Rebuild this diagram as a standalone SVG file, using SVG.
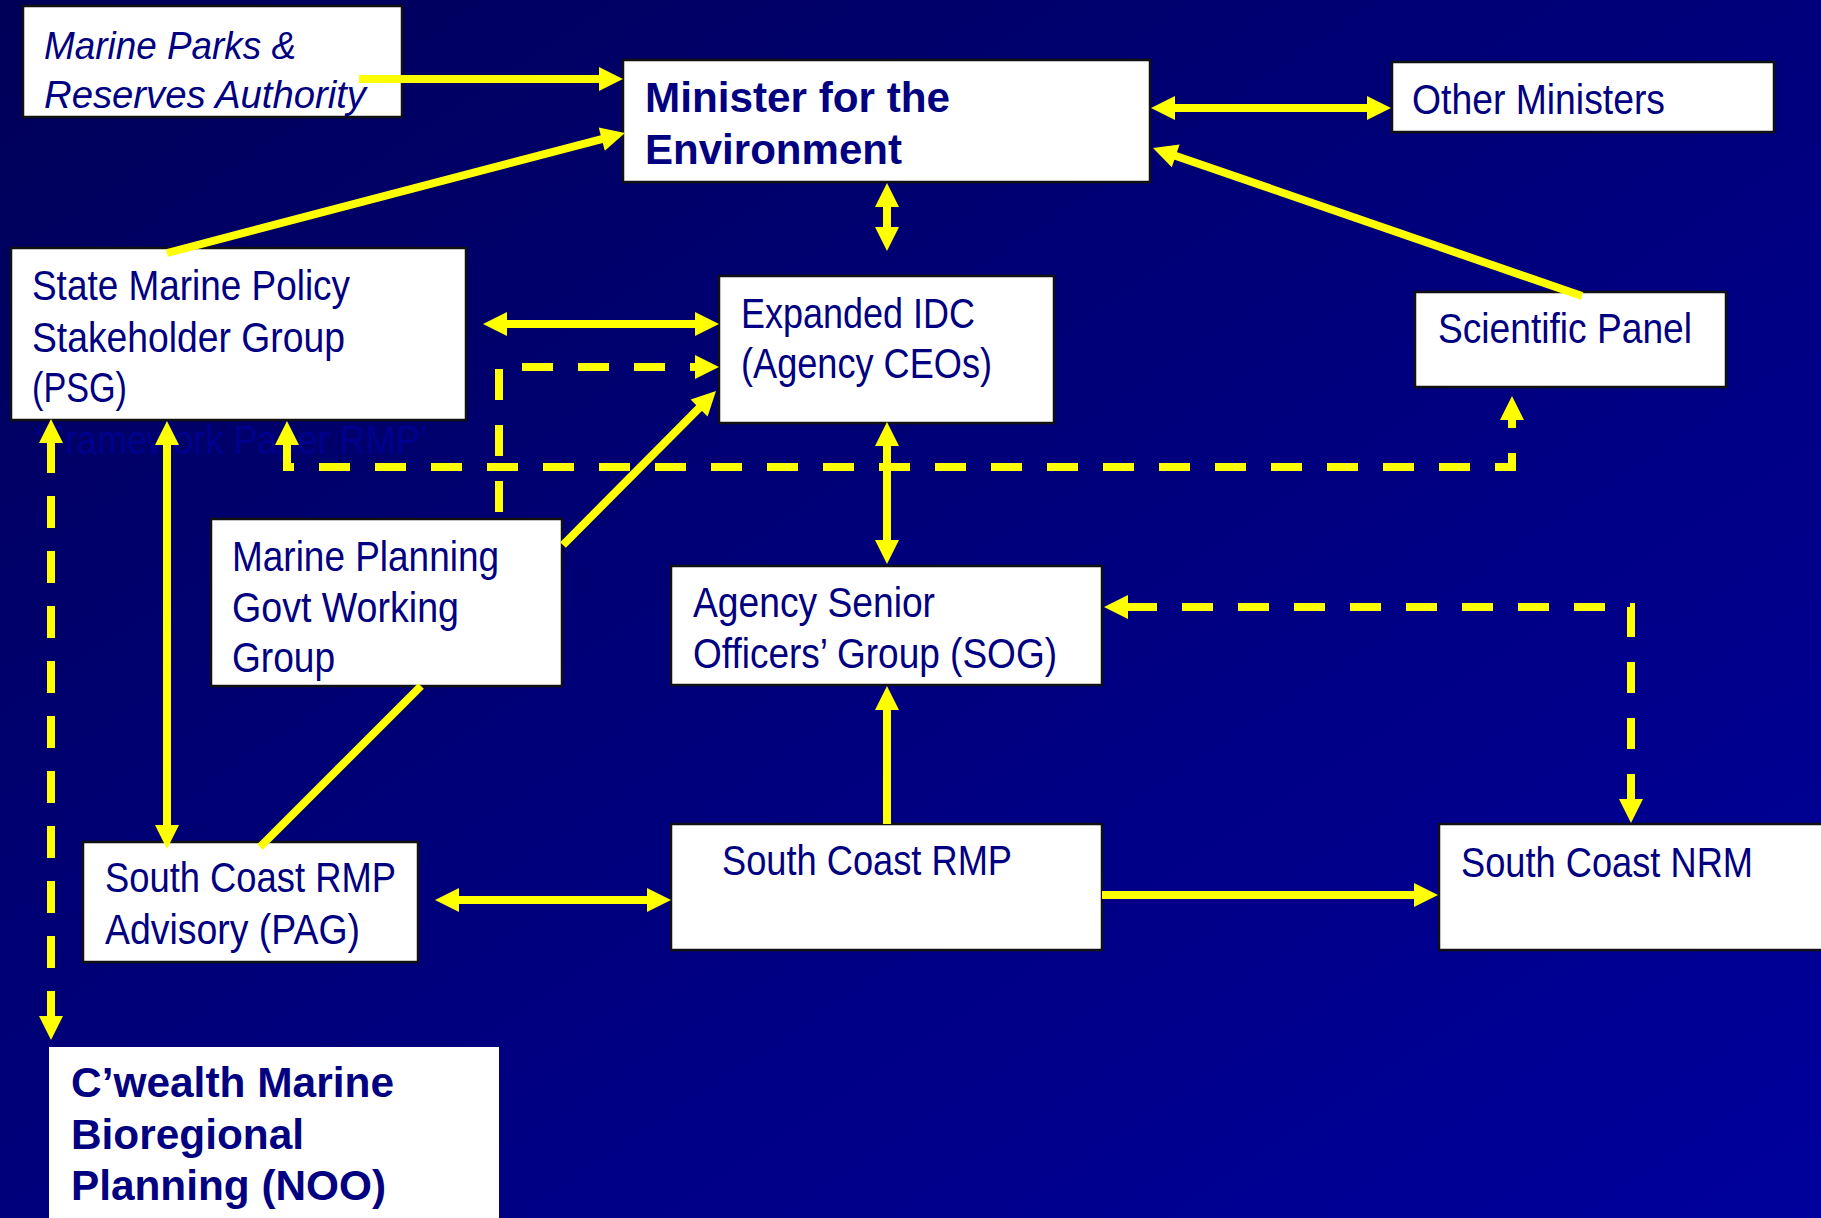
<svg xmlns="http://www.w3.org/2000/svg" width="1821" height="1218" viewBox="0 0 1821 1218">
<defs>
<linearGradient id="bg" x1="0" y1="0" x2="1" y2="1">
<stop offset="0" stop-color="#000058"/>
<stop offset="0.5" stop-color="#00007c"/>
<stop offset="1" stop-color="#00009c"/>
</linearGradient>
<marker id="ah" markerUnits="userSpaceOnUse" markerWidth="24" markerHeight="24" refX="2" refY="12" orient="auto-start-reverse" overflow="visible">
<path d="M0,0 L24,12 L0,24 Z" fill="#ffff00"/>
</marker>
<style>
.box{fill:#ffffff;stroke:#111111;stroke-width:2.5}
.t{font-family:"Liberation Sans",Arial,sans-serif;fill:#000080;font-size:42px}
.b{font-weight:bold}
.i{font-style:italic;font-size:38px}
.c{fill:none;stroke:#ffff00;stroke-width:8}
.d{stroke-dasharray:31 25}
.faint{font-family:"Liberation Sans",Arial,sans-serif;fill:#00008e;font-size:40px}
</style>
</defs>
<rect x="0" y="0" width="1821" height="1218" fill="url(#bg)"/>
<text class="faint" x="35" y="454" textLength="393" lengthAdjust="spacingAndGlyphs">‘Framework Paper RMP’</text>

<g id="n-mpra">
<rect class="box" x="23" y="6" width="379" height="111"/>
<text class="t i" x="44" y="59" textLength="252" lengthAdjust="spacingAndGlyphs">Marine Parks &amp;</text>
<text class="t i" x="44" y="108" textLength="322" lengthAdjust="spacingAndGlyphs">Reserves Authority</text>
</g>
<g id="n-minister">
<rect class="box" x="623" y="60" width="527" height="122"/>
<text class="t b" x="645" y="112" textLength="305" lengthAdjust="spacingAndGlyphs">Minister for the</text>
<text class="t b" x="645" y="164" textLength="257" lengthAdjust="spacingAndGlyphs">Environment</text>
</g>
<g id="n-other">
<rect class="box" x="1392" y="62" width="382" height="70"/>
<text class="t" x="1412" y="114" textLength="253" lengthAdjust="spacingAndGlyphs">Other Ministers</text>
</g>
<g id="n-psg">
<rect class="box" x="11" y="248" width="455" height="172"/>
<text class="t" x="32" y="300" textLength="318" lengthAdjust="spacingAndGlyphs">State Marine Policy</text>
<text class="t" x="32" y="352" textLength="313" lengthAdjust="spacingAndGlyphs">Stakeholder Group</text>
<text class="t" x="32" y="402" textLength="95" lengthAdjust="spacingAndGlyphs">(PSG)</text>
</g>
<g id="n-idc">
<rect class="box" x="719" y="276" width="335" height="147"/>
<text class="t" x="741" y="328" textLength="234" lengthAdjust="spacingAndGlyphs">Expanded IDC</text>
<text class="t" x="741" y="378" textLength="251" lengthAdjust="spacingAndGlyphs">(Agency CEOs)</text>
</g>
<g id="n-sci">
<rect class="box" x="1415" y="292" width="311" height="95"/>
<text class="t" x="1438" y="343" textLength="254" lengthAdjust="spacingAndGlyphs">Scientific Panel</text>
</g>
<g id="n-mpgwg">
<rect class="box" x="211" y="519" width="351" height="167"/>
<text class="t" x="232" y="571" textLength="267" lengthAdjust="spacingAndGlyphs">Marine Planning</text>
<text class="t" x="232" y="622" textLength="227" lengthAdjust="spacingAndGlyphs">Govt Working</text>
<text class="t" x="232" y="672" textLength="103" lengthAdjust="spacingAndGlyphs">Group</text>
</g>
<g id="n-sog">
<rect class="box" x="671" y="566" width="431" height="119"/>
<text class="t" x="693" y="617" textLength="242" lengthAdjust="spacingAndGlyphs">Agency Senior</text>
<text class="t" x="693" y="668" textLength="364" lengthAdjust="spacingAndGlyphs">Officers’ Group (SOG)</text>
</g>
<g id="n-pag">
<rect class="box" x="83" y="842" width="335" height="120"/>
<text class="t" x="105" y="892" textLength="291" lengthAdjust="spacingAndGlyphs">South Coast RMP</text>
<text class="t" x="105" y="944" textLength="255" lengthAdjust="spacingAndGlyphs">Advisory (PAG)</text>
</g>
<g id="n-rmp">
<rect class="box" x="671" y="824" width="431" height="126"/>
<text class="t" x="722" y="875" textLength="290" lengthAdjust="spacingAndGlyphs">South Coast RMP</text>
</g>
<g id="n-nrm">
<rect class="box" x="1439" y="824" width="395" height="126"/>
<text class="t" x="1461" y="877" textLength="292" lengthAdjust="spacingAndGlyphs">South Coast NRM</text>
</g>
<g id="n-cwealth">
<rect x="49" y="1047" width="450" height="185" fill="#ffffff"/>
<text class="t b" x="71" y="1097" textLength="323" lengthAdjust="spacingAndGlyphs">C’wealth Marine</text>
<text class="t b" x="71" y="1149" textLength="233" lengthAdjust="spacingAndGlyphs">Bioregional</text>
<text class="t b" x="71" y="1200" textLength="315" lengthAdjust="spacingAndGlyphs">Planning (NOO)</text>
</g>

<g id="connectors">
<path class="c" d="M359,79 H601" marker-end="url(#ah)" stroke-width="7"/>
<path class="c" d="M167,253 L603.7,138.6" marker-end="url(#ah)" stroke-width="7"/>
<path class="c" d="M1173,108 H1369" marker-start="url(#ah)" marker-end="url(#ah)"/>
<path class="c" d="M1582,296 L1173.8,155.2" marker-end="url(#ah)" stroke-width="7"/>
<path class="c" d="M887,205 V229" marker-start="url(#ah)" marker-end="url(#ah)" stroke-width="9"/>
<path class="c" d="M505,324 H697" marker-start="url(#ah)" marker-end="url(#ah)"/>
<path class="c d" d="M499,512 V367 H697" marker-end="url(#ah)"/>
<path class="c" d="M563,545 L700.5,406.6" marker-end="url(#ah)" stroke-width="7"/>
<path class="c d" d="M287,443 V467 H1512 V418" marker-start="url(#ah)" marker-end="url(#ah)"/>
<path class="c" d="M887,444 V542" marker-start="url(#ah)" marker-end="url(#ah)"/>
<path class="c d" d="M1126,607 H1631 V801" marker-start="url(#ah)" marker-end="url(#ah)"/>
<path class="c" d="M167,443 V827" marker-start="url(#ah)" marker-end="url(#ah)" stroke-width="7"/>
<path class="c" d="M51,441 V1018" marker-start="url(#ah)" marker-end="url(#ah)" stroke-dasharray="32 23"/>
<path class="c" d="M421,686 L260,847" stroke-width="7"/>
<path class="c" d="M457,900 H649" marker-start="url(#ah)" marker-end="url(#ah)"/>
<path class="c" d="M887,824 V708" marker-end="url(#ah)" stroke-width="7"/>
<path class="c" d="M1102,895 H1416" marker-end="url(#ah)"/>
</g>
</svg>
